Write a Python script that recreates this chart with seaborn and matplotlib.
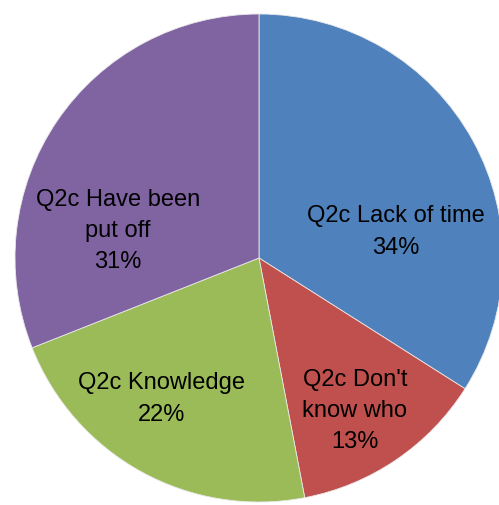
import matplotlib
matplotlib.use("Agg")
import matplotlib.pyplot as plt
import seaborn as sns

sns.set_theme(style="white")
plt.rcParams['font.family'] = ['Liberation Sans', 'DejaVu Sans']

categories = ["Q2c Lack of time", "Q2c Don't\nknow who", "Q2c Knowledge", "Q2c Have been\nput off"]
values = [34, 13, 22, 31]
colors = ["#4F81BD", "#C0504D", "#9BBB59", "#8064A2"]
label_pos_px = [(396, 232), (355, 411), (162, 399), (118, 231)]

W, H = 499, 505
cx, cy, R = 259, 258, 244

fig = plt.figure(figsize=(W / 100, H / 100), dpi=100)
ax = fig.add_axes([0, 0, 1, 1])
ax.pie(values, colors=colors, startangle=90, counterclock=False,
       radius=1, center=(0, 0),
       wedgeprops=dict(edgecolor="#e8e8e8", linewidth=0.6))
ax.set_xlim(-cx / R, (W - cx) / R)
ax.set_ylim(-(H - cy) / R, cy / R)
ax.set_aspect("auto")
ax.axis("off")

for cat, v, (px, py) in zip(categories, values, label_pos_px):
    ax.text((px - cx) / R, (cy - py) / R, f"{cat}\n{v}%", ha="center", va="center",
            fontsize=17, color="black", linespacing=1.55)

fig.savefig("out.png", dpi=100)
